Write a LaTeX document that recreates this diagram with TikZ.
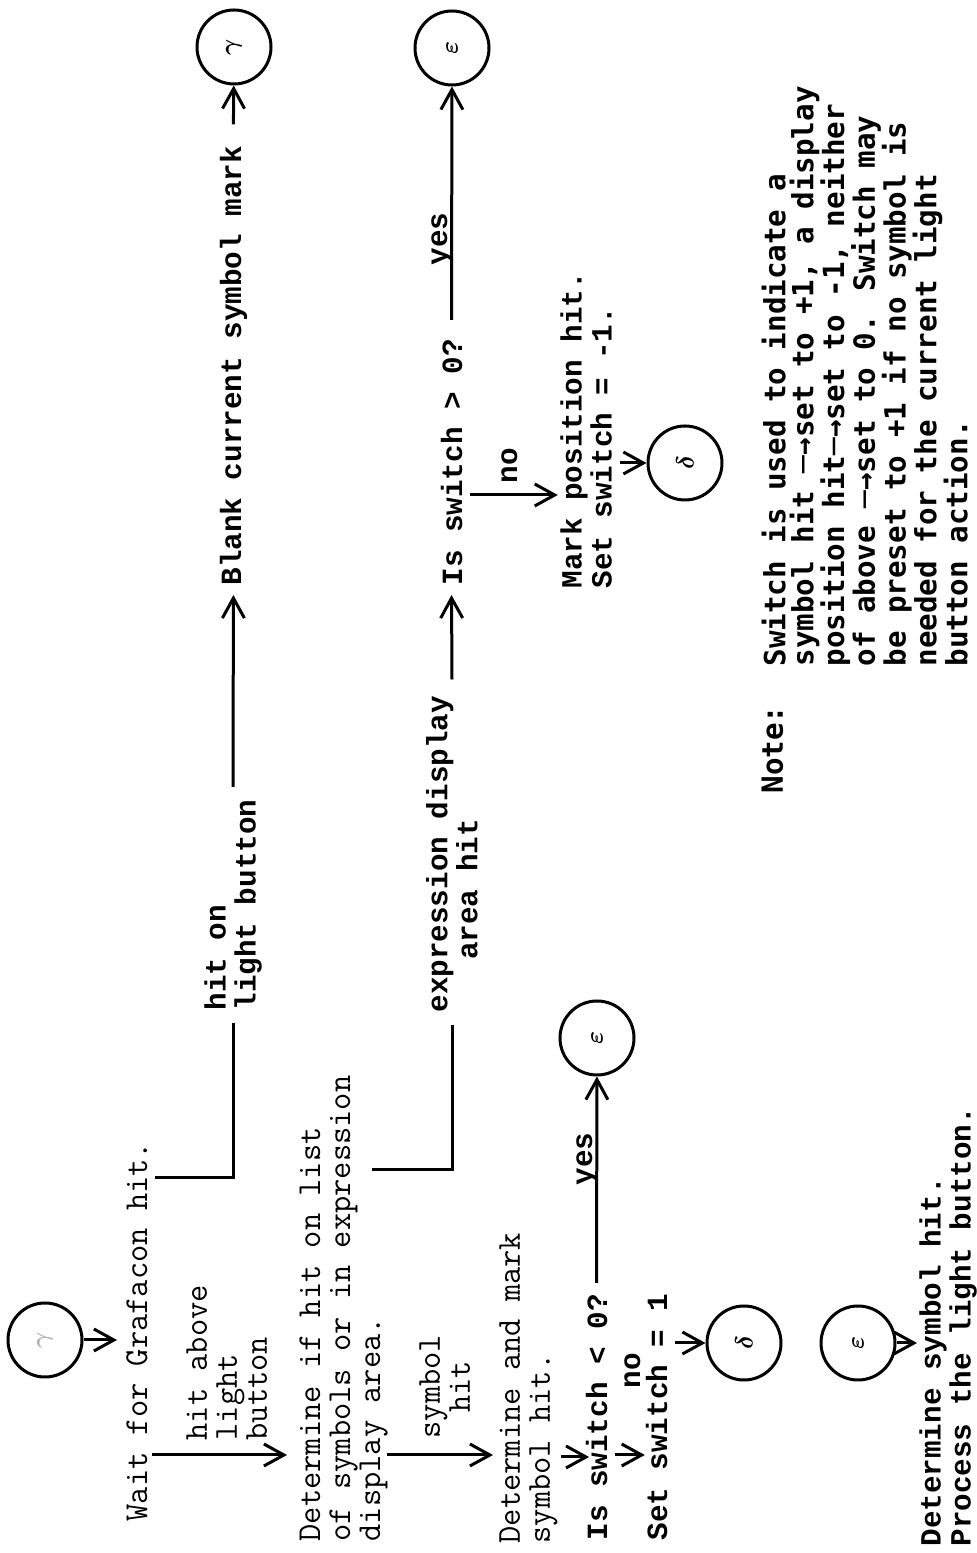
\documentclass[tikz,border=0pt]{standalone}
\usepackage{fontspec}
\usetikzlibrary{arrows.meta,calc}
\newfontfamily\typefam{Liberation Mono}
\newfontfamily\notefam{DejaVu Sans Mono}
\newcommand{\lighttt}{\fontsize{33.5}{30}\selectfont\ttfamily}
\newcommand{\boldtt}{\fontsize{29.3}{30}\selectfont\typefam\bfseries}
\newcommand{\notett}{\fontsize{29.2}{28}\selectfont\notefam\bfseries}

\begin{document}
\begin{tikzpicture}[x=1pt, y=1pt, rotate=90, transform shape, line width=3pt,
  >={Straight Barb[length=20pt,width=22pt]},
  lt/.style={font=\lighttt, inner sep=0pt, align=left},
  bd/.style={font=\boldtt, inner sep=0pt, align=left},
  nt/.style={font=\notett, inner sep=0pt, align=left},
  state/.style={circle, draw, minimum size=74pt, inner sep=0pt, font=\fontsize{34}{34}\selectfont\boldmath}]
% page is drawn turned by 90 degrees
\useasboundingbox (0,0) rectangle (1553,-977);
% start
\node[state] (g0) at (213,-45) {\color{black!30}$\gamma$};
\node[lt, anchor=base west] (wait) at (30,-147) {Wait for Grafacon hit.};
\draw[->] (g0) -- ++(0,-72);
% hit above light button
\node[lt, anchor=north west] (above) at (111,-185) {hit above\\light\\button};
\node[lt, anchor=north west] (det) at (10,-298) {Determine if hit on list\\of symbols or in expression\\display area.};
\coordinate (aboveTop) at (98,-152);
\draw[->] (aboveTop) -- ++(0,-135);
% hit on light button
\coordinate (dropA) at (375,-155);
\node[bd, anchor=west] (hiton) at (541,-233) {hit on\\light button};
\node[bd, anchor=base west] (blank) at (966,-241) {Blank current symbol mark};
\node[state] (g1) at (1506,-234) {$\gamma$};
\draw (dropA) -- (375,-233) -- ([xshift=-11pt]hiton.west);
\draw[->] ([xshift=11pt]hiton.east) -- ([xshift=-8pt]blank.west);
\draw[->] ([xshift=20pt]blank.east) -- (g1);
% symbol hit
\node[lt, anchor=north west, align=center] (symlab) at (113,-418) {symbol\\hit};
\node[lt, anchor=north west] (mark) at (8,-498) {Determine and mark\\symbol hit.};
\coordinate (symTop) at (98,-387);
\draw[->] (symTop) -- ++(0,-106);
\draw[->] ($(mark.south west)+(88,-2)$) -- ++(0,-28);
% switch < 0
\node[bd, anchor=base west] (islt) at (11,-607) {Is switch < 0?};
\node[state] (e1) at (515,-597) {$\varepsilon$};
\node[bd, anchor=base west] (yes1) at (366,-592) {yes};
\draw[->] ([xshift=10pt]islt.east) -- (e1);
\node[bd, anchor=base west] (no1) at (163,-640) {no};
\draw[->] ($(islt.south west)+(87,-6)$) -- ++(0,-30);
\node[bd, anchor=base west] (setsw) at (11,-667) {Set switch = 1};
\node[state] (d1) at (210,-744) {$\delta$};
\draw[->] ($(setsw.south west)+(199,-6)$) -- (d1);
% expression display area
\coordinate (dropB) at (383,-372);
\node[bd, anchor=west] (exprlab) at (539,-452) {expression display\\\hspace*{1.8em}area hit};
\node[bd, anchor=base west] (isgt) at (966,-462) {Is switch > 0?};
\node[state] (e2) at (1505,-452) {$\varepsilon$};
\node[bd, anchor=base west] (yes2) at (1286,-447) {yes};
\draw (dropB) -- (383,-452) -- ([xshift=-11pt]exprlab.west);
\draw[->] ([xshift=15pt]exprlab.east) -- ([xshift=-8pt]isgt.west);
\draw[->] ([xshift=18pt]isgt.east) -- (e2);
\node[bd, anchor=base west] (no2) at (1068,-517) {no};
\draw[->] ($(isgt.south west)+(92,-6)$) -- ++(0,-88);
\node[bd, anchor=north west] (markpos) at (963,-559) {Mark position hit.\\Set switch = -1.};
\node[state] (d2) at (1090,-685) {$\delta$};
\draw[->] ($(markpos.south west)+(127,-6)$) -- (d2);
% epsilon entry
\node[state] (e3) at (210,-858) {$\varepsilon$};
\node[bd, anchor=north west] (detsym) at (5,-918) {Determine symbol hit.\\Process the light button.};
\draw[->] (e3) -- ++(0,-59);
% note
\node[nt, anchor=north west] (notelab) at (758,-760) {Note:};
\node[nt, anchor=north west] (notetxt) at (885,-760) {Switch is used to indicate a\\symbol hit ─→set to +1, a display\\position hit─→set to -1, neither\\of above ─→set to 0.  Switch may\\be preset to +1 if no symbol is\\needed for the current light\\button action.};
\end{tikzpicture}
\end{document}
